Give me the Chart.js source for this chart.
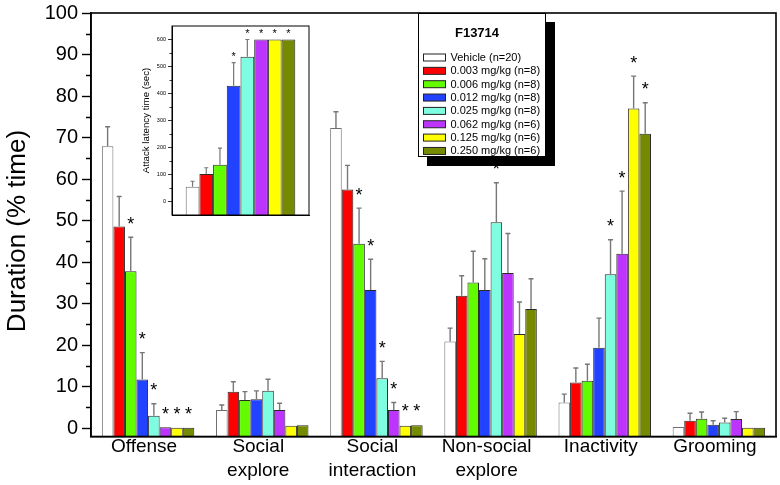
<!DOCTYPE html>
<html><head><meta charset="utf-8">
<script src="https://cdn.jsdelivr.net/npm/chart.js@4.4.1/dist/chart.umd.min.js"></script>
<style>
html,body{margin:0;padding:0;background:#fff;}
#wrap{position:relative;width:780px;height:485px;overflow:hidden;}
#main{position:absolute;left:0;top:0;}
#inset{position:absolute;left:125px;top:22px;}
</style></head><body>
<div id="wrap">
<canvas id="main" width="780" height="485"></canvas>
<canvas id="inset" width="190" height="200"></canvas>
</div>
<script>
// ---------- DATA ----------
const categories = [['Offense'], ['Social', 'explore'], ['Social', 'interaction'], ['Non-social', 'explore'], ['Inactivity'], ['Grooming']];
const seriesNames = ['Vehicle (n=20)', '0.003 mg/kg (n=8)', '0.006 mg/kg (n=8)', '0.012 mg/kg (n=8)', '0.025 mg/kg (n=8)', '0.062 mg/kg (n=6)', '0.125 mg/kg (n=6)', '0.250 mg/kg (n=6)'];
const legendTitle = 'F13714';
const yTitle = 'Duration (% time)';

// mean % time per category
const vehicle = [67.9, 4.4, 72.3, 20.9, 6.2, 0.3];
const dose003 = [48.6, 8.8, 57.5, 31.9, 11.0, 1.8];
const dose006 = [37.8, 6.8, 44.4, 35.1, 11.4, 2.3];
const dose012 = [11.7, 7.0, 33.3, 33.3, 19.4, 0.8];
const dose025 = [3.0, 9.0, 12.0, 49.6, 37.1, 1.4];
const dose062 = [0.2, 4.4, 4.4, 37.4, 42.0, 2.2];
const dose125 = [0.1, 0.6, 0.6, 22.7, 77.0, 0.1];
const dose250 = [0.1, 0.7, 0.7, 28.7, 70.9, 0.1];

// upper end of error bars (mean + SEM)
const vehicleErr = [72.6, 5.6, 76.2, 24.1, 8.2, 0.5];
const dose003Err = [55.8, 11.2, 63.3, 36.7, 14.5, 3.6];
const dose006Err = [46.0, 8.8, 53.0, 42.6, 15.4, 3.9];
const dose012Err = [18.2, 9.0, 40.7, 40.8, 26.5, 1.8];
const dose025Err = [5.9, 11.8, 16.1, 59.1, 45.4, 2.4];
const dose062Err = [0.2, 6.0, 6.2, 46.9, 57.1, 4.0];
const dose125Err = [0.1, 0.8, 0.8, 30.4, 84.8, 0.1];
const dose250Err = [0.1, 0.9, 0.9, 36.0, 78.4, 0.1];

// significance markers (*)
const vehicleSig = [0, 0, 0, 0, 0, 0];
const dose003Sig = [0, 0, 0, 0, 0, 0];
const dose006Sig = [1, 0, 1, 0, 0, 0];
const dose012Sig = [1, 0, 1, 0, 0, 0];
const dose025Sig = [1, 0, 1, 1, 1, 0];
const dose062Sig = [1, 0, 1, 0, 1, 0];
const dose125Sig = [1, 0, 1, 0, 1, 0];
const dose250Sig = [1, 0, 1, 0, 1, 0];

const yTicks = [0, 10, 20, 30, 40, 50, 60, 70, 80, 90, 100];

// inset: attack latency (sec)
const latencyTitle = 'Attack latency time (sec)';
const latency = [55, 102, 136, 429, 536, 600, 600, 600];
const latencyErr = [75, 125, 198, 514, 600, 600, 600, 600];
const latencySig = [0, 0, 0, 1, 1, 1, 1, 1];
const latencyTicks = [0, 100, 200, 300, 400, 500, 600];

// ---------- STYLE ----------
const colors = ['#ffffff', '#ff0000', '#62fb00', '#2142ff', '#7ffde0', '#bd34ff', '#ffff00', '#768a00'];
const borders = ['#6e6e6e', '#2a2a2a', '#2a2a2a', '#2a2a2a', '#2a2a2a', '#2a2a2a', '#2a2a2a', '#2a2a2a'];
const FONT = "'Liberation Sans', Arial, Helvetica, sans-serif";

const seriesValues = [vehicle, dose003, dose006, dose012, dose025, dose062, dose125, dose250];
const seriesErr = [vehicleErr, dose003Err, dose006Err, dose012Err, dose025Err, dose062Err, dose125Err, dose250Err];
const seriesSig = [vehicleSig, dose003Sig, dose006Sig, dose012Sig, dose025Sig, dose062Sig, dose125Sig, dose250Sig];

Chart.defaults.font.family = FONT;
Chart.defaults.color = '#000';

// error bars + stars
const errPlugin = {
  id: 'errs',
  afterDatasetsDraw(chart, args, o) {
    const ctx = chart.ctx, y = chart.scales.y;
    ctx.save();
    chart.data.datasets.forEach((ds, di) => {
      const meta = chart.getDatasetMeta(di);
      meta.data.forEach((bar, i) => {
        const top = y.getPixelForValue(ds.data[i]);
        const eTop = y.getPixelForValue(ds.errUpper[i]);
        if (eTop < top - 1) {
          ctx.strokeStyle = o.color; ctx.lineWidth = o.lw;
          ctx.beginPath();
          ctx.moveTo(bar.x, top); ctx.lineTo(bar.x, eTop);
          ctx.moveTo(bar.x - o.cap, eTop); ctx.lineTo(bar.x + o.cap, eTop);
          ctx.stroke();
        }
        if (ds.sig[i]) {
          ctx.fillStyle = '#000';
          ctx.font = o.starFont;
          ctx.textAlign = 'center'; ctx.textBaseline = 'alphabetic';
          ctx.fillText('*', bar.x, Math.min(eTop, top) - o.gap + o.starShift);
        }
      });
    });
    ctx.restore();
  }
};

const framePlugin = {
  id: 'frame',
  beforeDraw(chart, args, o) {
    const a = chart.chartArea, ctx = chart.ctx;
    ctx.save();
    ctx.fillStyle = '#fff';
    if (o.fillAll) ctx.fillRect(0, 0, chart.width, chart.height);
    else ctx.fillRect(a.left, a.top, a.right - a.left, a.bottom - a.top);
    ctx.restore();
  },
  afterDraw(chart, args, o) {
    const a = chart.chartArea, ctx = chart.ctx, y = chart.scales.y;
    ctx.save();
    ctx.strokeStyle = '#000'; ctx.lineWidth = o.lw;
    ctx.strokeRect(a.left, a.top, a.right - a.left, a.bottom - a.top);
    // minor ticks
    ctx.lineWidth = o.minorW;
    ctx.beginPath();
    for (let v = o.minorStart; v < y.max; v += o.minorStep) {
      const p = Math.round(y.getPixelForValue(v)) + 0.5;
      ctx.moveTo(a.left - o.minorLen, p); ctx.lineTo(a.left, p);
    }
    ctx.stroke();
    // rotated axis title (main chart only)
    if (o.title) {
      ctx.translate(o.titleX, o.titleY);
      ctx.rotate(-Math.PI / 2);
      ctx.fillStyle = '#000';
      ctx.font = o.titleFont;
      ctx.textAlign = 'center'; ctx.textBaseline = 'middle';
      ctx.fillText(o.title, 0, 0);
    }
    ctx.restore();
  }
};

const legendPlugin = {
  id: 'boxlegend',
  afterDraw(chart) {
    const ctx = chart.ctx;
    const bx = 418, by = 13, bw = 128, bh = 144, sh = 9;
    ctx.save();
    ctx.fillStyle = '#000';
    ctx.fillRect(bx + sh, by + sh, bw, bh);
    ctx.fillStyle = '#fff';
    ctx.fillRect(bx, by, bw, bh);
    ctx.strokeStyle = '#000'; ctx.lineWidth = 1;
    ctx.strokeRect(bx + 0.5, by + 0.5, bw - 1, bh - 1);
    ctx.fillStyle = '#000';
    ctx.font = 'bold 13px ' + FONT;
    ctx.textAlign = 'center'; ctx.textBaseline = 'middle';
    ctx.fillText(legendTitle, 477, 33);
    ctx.font = '11px ' + FONT;
    ctx.textAlign = 'left';
    seriesNames.forEach((n, i) => {
      const cy = 57.5 + i * 13.35;
      ctx.fillStyle = colors[i];
      ctx.fillRect(423.5, cy - 3.5, 22, 7);
      ctx.strokeStyle = '#222'; ctx.lineWidth = 1;
      ctx.strokeRect(423.5, cy - 3.5, 22, 7);
      ctx.fillStyle = '#000';
      ctx.fillText(n, 450.5, cy + 0.5);
    });
    ctx.restore();
  }
};

// ---------- MAIN CHART ----------
new Chart(document.getElementById('main'), {
  type: 'bar',
  data: {
    labels: categories,
    datasets: seriesNames.map((name, i) => ({
      label: name, data: seriesValues[i], errUpper: seriesErr[i], sig: seriesSig[i],
      backgroundColor: colors[i], borderColor: borders[i], borderWidth: 1,
      base: -2, categoryPercentage: 0.81, barPercentage: 1.0
    }))
  },
  options: {
    responsive: false, animation: false, devicePixelRatio: 1,
    layout: { padding: { left: 0, right: 4, top: 13, bottom: 0 } },
    plugins: {
      legend: { display: false }, tooltip: { enabled: false },
      errs: { color: '#777', lw: 1.4, cap: 2.5, gap: 18, starFont: '18px ' + FONT, starShift: 10.5 },
      frame: { lw: 1.6, minorStart: 5, minorStep: 10, minorLen: 5, minorW: 1.3, fillAll: true,
               title: yTitle, titleX: 18, titleY: 231, titleFont: '26px ' + FONT }
    },
    scales: {
      x: {
        grid: { display: false, drawTicks: false },
        border: { display: true, color: '#000', width: 1.6 },
        ticks: { font: { size: 19, lineHeight: 1.28 }, color: '#000', padding: -2, maxRotation: 0, minRotation: 0, autoSkip: false, labelOffset: -4 },
        afterFit(s) { s.height = 48.5; s.paddingLeft = 0; s.paddingRight = 0; }
      },
      y: {
        min: -2, max: 100,
        afterBuildTicks(s) { s.ticks = yTicks.map(v => ({ value: v })); },
        ticks: { font: { size: 20 }, color: '#000', padding: 4 },
        grid: { drawOnChartArea: false, drawTicks: true, tickLength: 9, tickColor: '#000', tickWidth: 1.4 },
        border: { display: true, color: '#000', width: 1.6 },
        title: { display: false },
        afterFit(s) { s.width = 91; s.paddingTop = 0; s.paddingBottom = 0; }
      }
    }
  },
  plugins: [framePlugin, errPlugin, legendPlugin]
});

// ---------- INSET ----------
new Chart(document.getElementById('inset'), {
  type: 'bar',
  data: {
    labels: ['Attack latency'],
    datasets: seriesNames.map((name, i) => ({
      label: name, data: [latency[i]], errUpper: [latencyErr[i]], sig: [latencySig[i]],
      backgroundColor: colors[i], borderColor: borders[i], borderWidth: 1,
      base: -50, categoryPercentage: 0.8, barPercentage: 1.0
    }))
  },
  options: {
    responsive: false, animation: false, devicePixelRatio: 1,
    layout: { padding: { left: 0, right: 6, top: 4, bottom: 0 } },
    plugins: {
      legend: { display: false }, tooltip: { enabled: false },
      errs: { color: '#777', lw: 1.2, cap: 2, gap: 9, starFont: '11px ' + FONT, starShift: 6.3 },
      frame: { lw: 1, minorStart: 50, minorStep: 100, minorLen: 2.5, minorW: 0.8, fillAll: false }
    },
    scales: {
      x: {
        display: true,
        grid: { display: false, drawTicks: false },
        border: { display: true, color: '#000', width: 1 },
        ticks: { display: false },
        afterFit(s) { s.height = 7; s.paddingLeft = 0; s.paddingRight = 0; }
      },
      y: {
        min: -50, max: 650,
        afterBuildTicks(s) { s.ticks = latencyTicks.map(v => ({ value: v })); },
        ticks: { font: { size: 5.5 }, color: '#000', padding: 2 },
        grid: { drawOnChartArea: false, drawTicks: true, tickLength: 4, tickColor: '#000', tickWidth: 0.8 },
        border: { display: true, color: '#000', width: 1 },
        title: { display: true, text: latencyTitle, font: { size: 9.7 }, color: '#000', padding: { top: 16, bottom: 0 } },
        afterFit(s) { s.width = 47; s.paddingTop = 0; s.paddingBottom = 0; }
      }
    }
  },
  plugins: [framePlugin, errPlugin]
});
</script>
</body></html>
